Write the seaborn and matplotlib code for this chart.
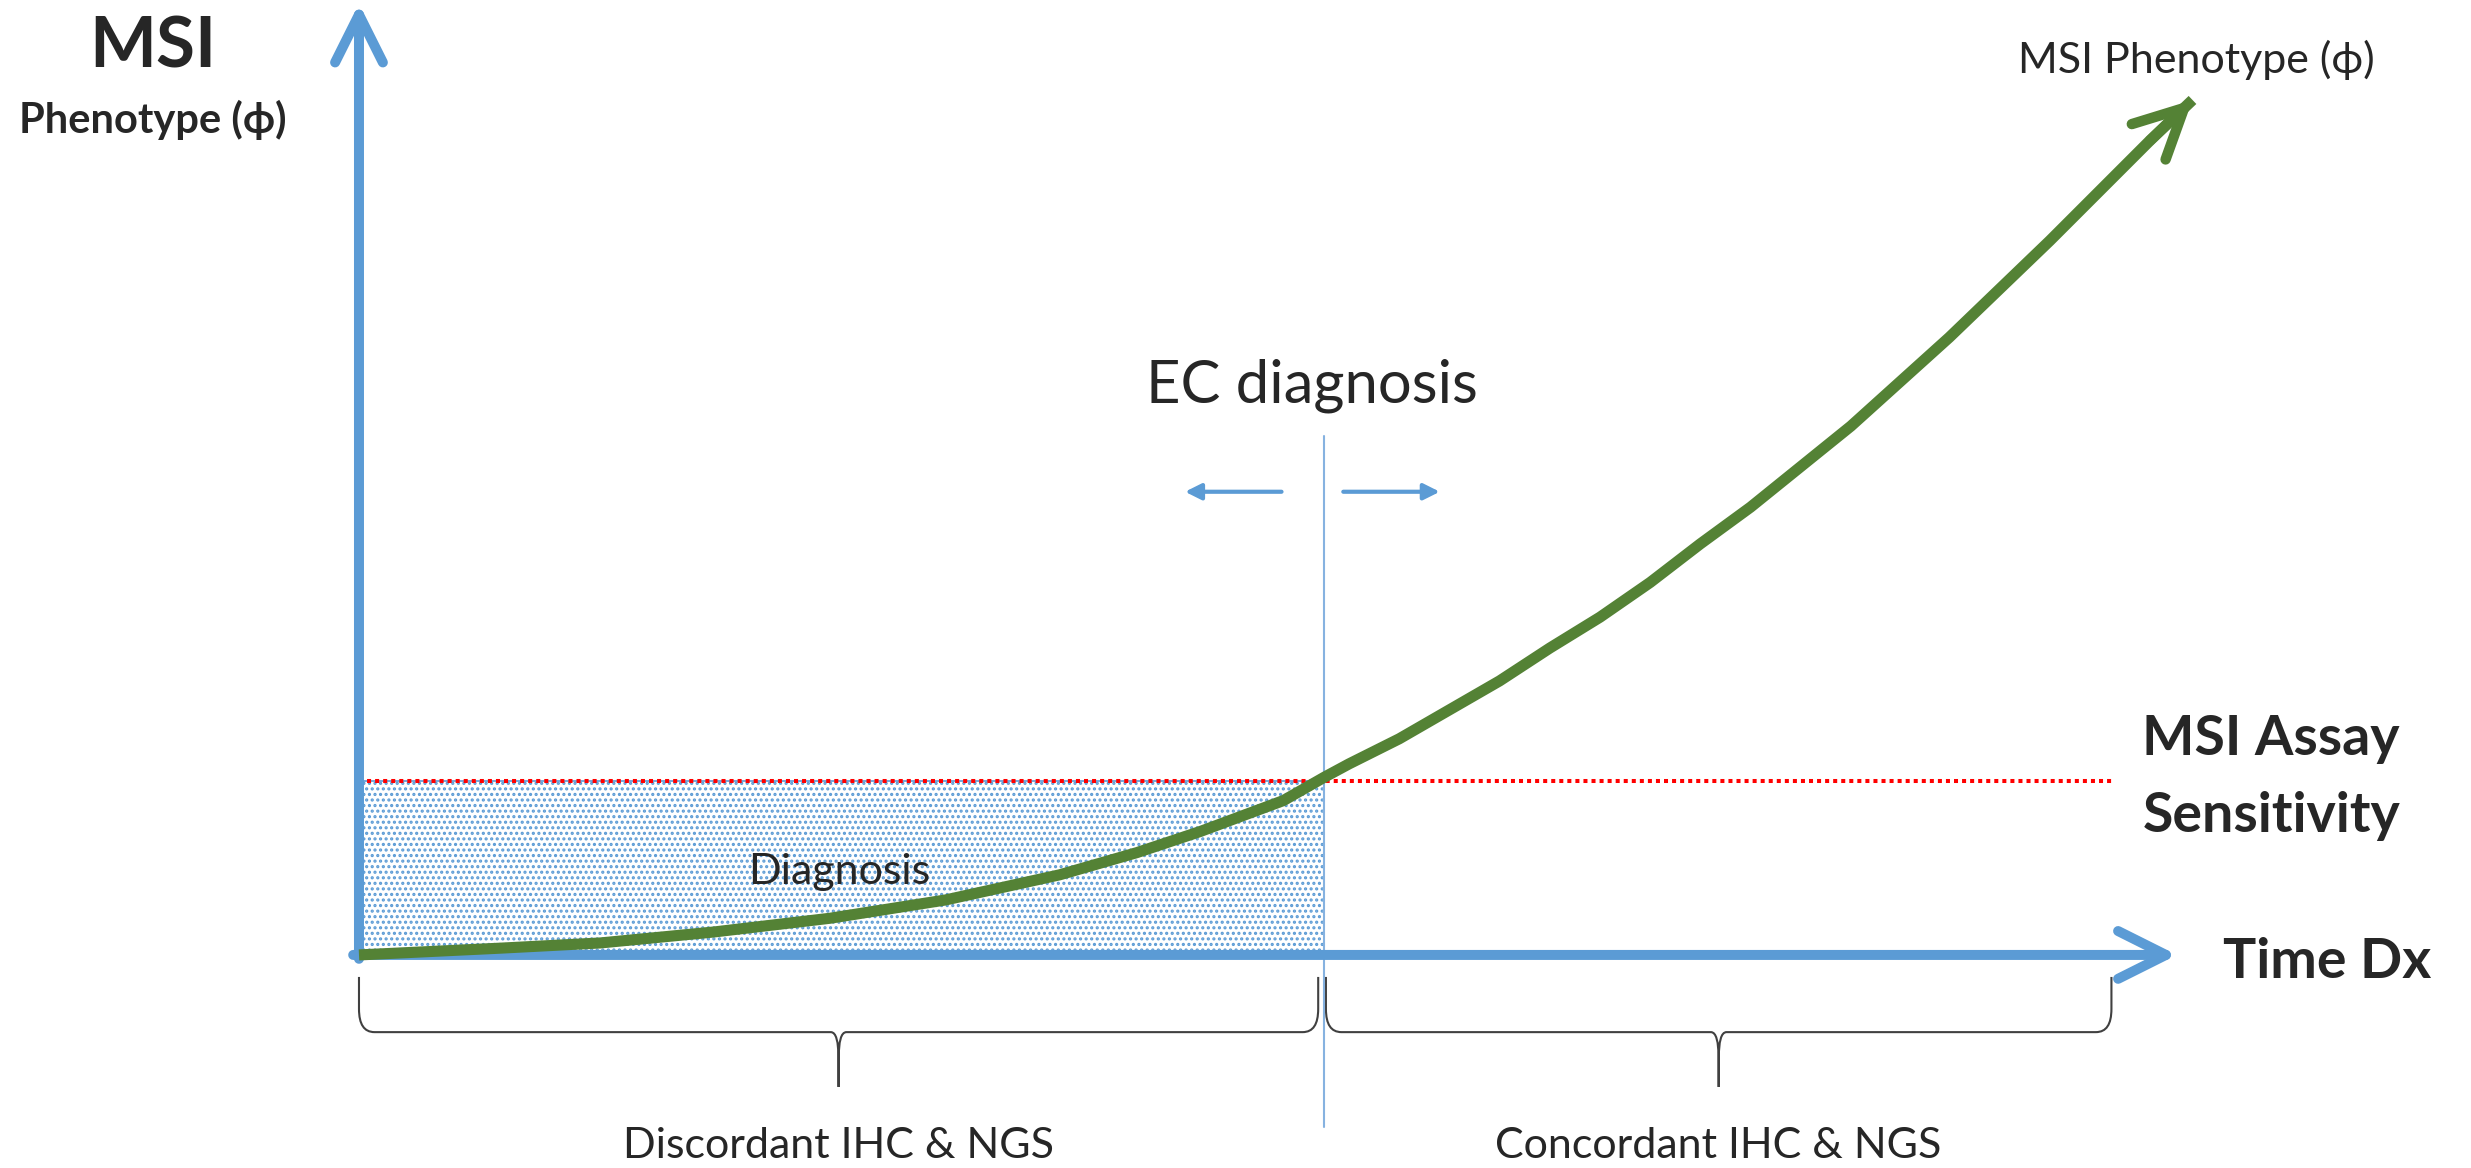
import numpy as np
import pandas as pd
import seaborn as sns
import matplotlib.pyplot as plt
from matplotlib.path import Path
from matplotlib.patches import PathPatch

# MSI phenotype curve (time units vs phenotype units)
time_pts = [0.0, 0.73, 1.25, 1.84, 2.44, 3.04, 3.63, 4.03, 4.36, 4.79, 5.00,
            5.13, 5.39, 5.65, 5.91, 6.17, 6.43, 6.69, 6.95, 7.21, 7.47, 7.73,
            8.24, 8.76, 9.28, 9.50]
phenotype = [0.0, 0.035, 0.062, 0.119, 0.19, 0.285, 0.415, 0.53, 0.64, 0.80, 0.92,
             0.99, 1.12, 1.27, 1.42, 1.59, 1.75, 1.93, 2.13, 2.32, 2.53, 2.74,
             3.20, 3.70, 4.22, 4.43]

t_dx = 5.0            # EC diagnosis
assay_sens = 0.9      # MSI assay sensitivity level
t_axis_end = 9.42
phi_axis_end = 4.93
t_sens_end = 9.10
brace_spans = [(0.0, 4.97), (5.01, 9.08)]
brace_labels = ['Discordant IHC & NGS', 'Concordant IHC & NGS']

blue = '#5B9BD5'
green = '#548235'

sns.set_theme(style='white')
plt.rcParams['font.family'] = ['Lato', 'DejaVu Sans']
plt.rcParams['hatch.linewidth'] = 1.5

df = pd.DataFrame({'time': time_pts, 'phi': phenotype})

fig = plt.figure(figsize=(24.71, 11.68), dpi=100)
ax = fig.add_axes([0, 0, 1, 1])
ax.set_xlim(-1.860, 10.943)
ax.set_ylim(-1.104, 4.948)
ax.set_axis_off()

# dotted "diagnosis" window below the assay sensitivity
ax.fill_between([0, t_dx], 0, assay_sens, facecolor='white', edgecolor=blue,
                hatch='...', linewidth=1.2, zorder=1)

# assay sensitivity line
ax.plot([0, t_sens_end], [assay_sens, assay_sens], color='red', lw=2.9,
        linestyle=(0, (1, 1)), zorder=2)

# EC diagnosis line
ax.plot([t_dx, t_dx], [-0.89, 2.69], color='#86B2E0', lw=1.5, zorder=2)

# axes as arrows
axis_arrow = dict(arrowstyle='->, head_length=0.4, head_width=0.2', color=blue,
                  lw=7.2, mutation_scale=86, shrinkA=0, shrinkB=0,
                  capstyle='round', joinstyle='round')
ax.annotate('', xy=(0, phi_axis_end), xytext=(0, -0.02), arrowprops=axis_arrow, zorder=3)
ax.annotate('', xy=(t_axis_end, 0), xytext=(-0.03, 0), arrowprops=axis_arrow, zorder=3)

# phenotype curve
sns.lineplot(data=df, x='time', y='phi', ax=ax, color=green, lw=8,
             solid_capstyle='butt', solid_joinstyle='round', sort=False,
             estimator=None, zorder=4)
ax.annotate('', xy=(time_pts[-1], phenotype[-1]), xytext=(time_pts[-2], phenotype[-2]),
            arrowprops=dict(arrowstyle='->, head_length=0.4, head_width=0.2',
                            color=green, lw=7.5, mutation_scale=88, shrinkA=0,
                            shrinkB=0, capstyle='round', joinstyle='round'),
            zorder=4)

# small arrows either side of diagnosis
small = dict(arrowstyle='-|>, head_length=0.4, head_width=0.2', color=blue, lw=3,
             mutation_scale=24, shrinkA=0, shrinkB=0)
ax.annotate('', xy=(4.28, 2.40), xytext=(4.78, 2.40), arrowprops=small)
ax.annotate('', xy=(5.60, 2.40), xytext=(5.10, 2.40), arrowprops=small)


def brace(x0, x1, y_top=-0.114, y_h=-0.40, y_cusp=-0.684):
    xm = (x0 + x1) / 2
    r, e, c, ch = 0.08, 0.12, 0.04, 0.14
    verts = [(x0, y_top), (x0, y_h + e), (x0, y_h), (x0 + r, y_h),
             (xm - c, y_h), (xm, y_h), (xm, y_h - ch), (xm, y_cusp),
             (xm, y_cusp), (xm, y_h - ch), (xm, y_h), (xm + c, y_h),
             (x1 - r, y_h), (x1, y_h), (x1, y_h + e), (x1, y_top)]
    codes = [Path.MOVETO, Path.LINETO, Path.CURVE3, Path.CURVE3,
             Path.LINETO, Path.CURVE3, Path.CURVE3, Path.LINETO,
             Path.MOVETO, Path.LINETO, Path.CURVE3, Path.CURVE3,
             Path.LINETO, Path.CURVE3, Path.CURVE3, Path.LINETO]
    ax.add_patch(PathPatch(Path(verts, codes), facecolor='none',
                           edgecolor='#404040', lw=1.5))
    return xm


for (x0, x1), lab in zip(brace_spans, brace_labels):
    xm = brace(x0, x1)
    ax.text(xm, -1.05, lab, fontsize=31, ha='center', va='baseline')

# labels
ax.text(-1.067, 4.60, 'MSI', fontsize=51, fontweight='bold', ha='center', va='baseline')
ax.text(-1.067, 4.26, 'Phenotype (ϕ)', fontsize=30, fontweight='bold',
        ha='center', va='baseline')
ax.text(9.52, 4.57, 'MSI Phenotype (ϕ)', fontsize=31, ha='center', va='baseline')
ax.text(4.94, 2.865, 'EC diagnosis', fontsize=43, ha='center', va='baseline')
ax.text(9.24, 1.036, 'MSI Assay', fontsize=40, fontweight='bold', ha='left', va='baseline')
ax.text(9.24, 0.636, 'Sensitivity', fontsize=40, fontweight='bold', ha='left', va='baseline')
ax.text(9.66, -0.119, 'Time Dx', fontsize=40, fontweight='bold', ha='left', va='baseline')
ax.text(2.49, 0.37, 'Diagnosis', fontsize=31, ha='center', va='baseline', zorder=5)

fig.savefig('out.png', dpi=100, facecolor='white')
